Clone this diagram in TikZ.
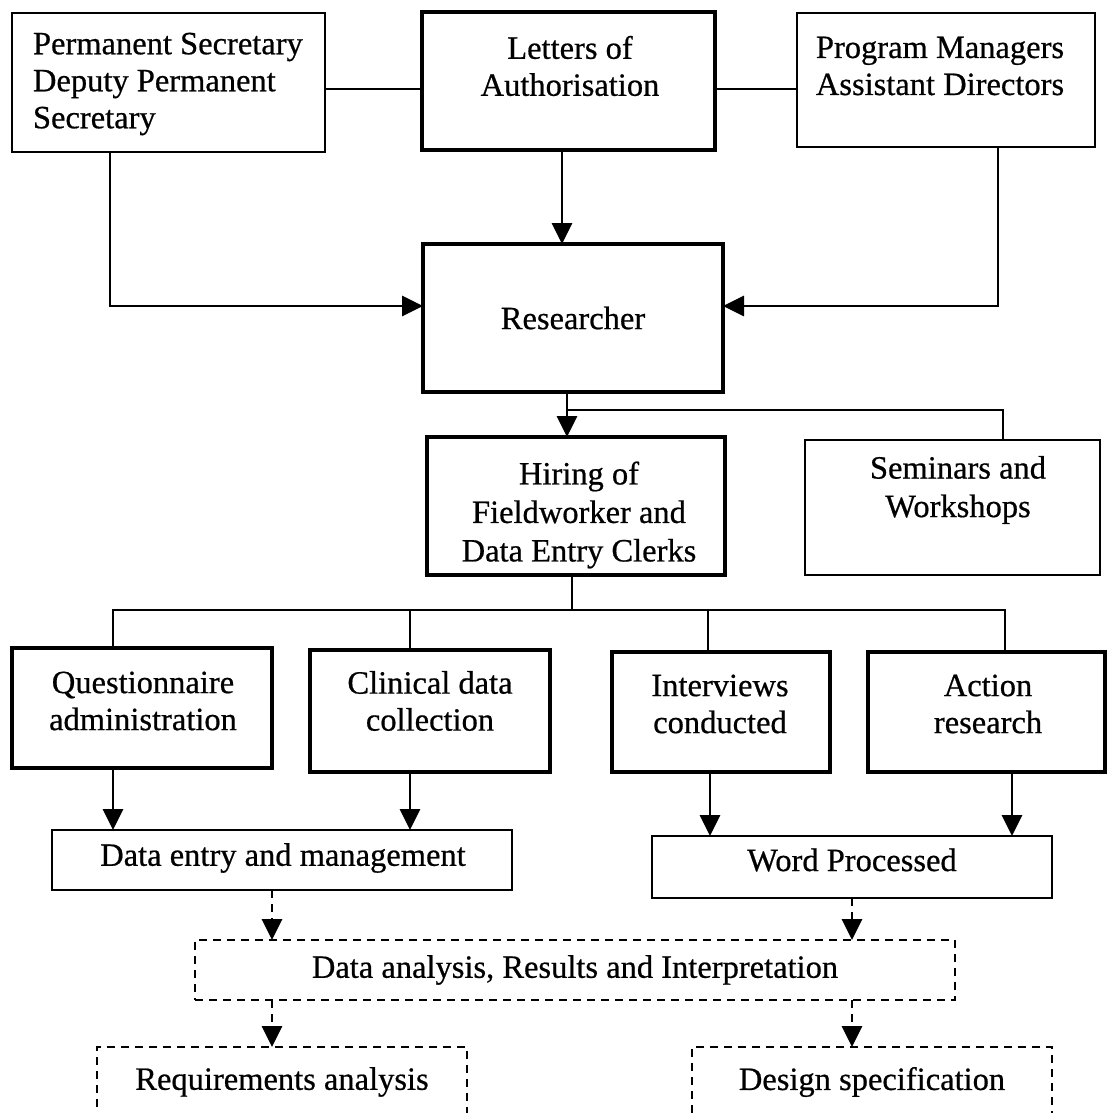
\documentclass[tikz,border=0pt]{standalone}
\usepackage{fontspec}
\setmainfont{Liberation Serif}[FakeBold=0.6]
\usetikzlibrary{arrows.meta}
\begin{document}
\begin{tikzpicture}[x=1pt,y=-1pt,
  every node/.style={inner sep=0pt,outer sep=0pt},
  thinbox/.style={draw,line width=2.6pt,anchor=north west},
  thickbox/.style={draw,line width=4.4pt,anchor=north west},
  dashbox/.style={draw,line width=2.8pt,dash pattern=on 8pt off 6pt,anchor=north west},
  txt/.style={font=\fontsize{32.5}{37}\selectfont,align=center},
  link/.style={line width=2.8pt},
  arr/.style={line width=2.8pt,-{Triangle[length=21pt,width=20pt]}},
  darr/.style={line width=2.8pt,dash pattern=on 8pt off 6pt,-{Triangle[length=21pt,width=20pt]}}]
\useasboundingbox (0,0) rectangle (1108,1113);
\clip (0,0) rectangle (1108,1113);
\fill[white] (0,0) rectangle (1108,1113);

% top row
\node[thinbox,minimum width=313pt,minimum height=139pt] (ps) at (12,13) {};
\node[thickbox,minimum width=293pt,minimum height=138pt] (let) at (422,12) {};
\node[thinbox,minimum width=298pt,minimum height=134pt] (pm) at (797,13) {};
\node[txt,align=left,anchor=west] (pst) at (33,84) {Permanent Secretary\\Deputy Permanent\\Secretary};
\node[txt] (lett) at (570,66) {Letters of\\Authorisation};
\node[txt] (pmt) at (940,66) {Program Managers\\Assistant Directors};

% researcher
\node[thickbox,minimum width=300pt,minimum height=148pt] (res) at (423,244) {};
\node[txt] (rest) at (573,318) {Researcher};

% second level
\node[thickbox,minimum width=298pt,minimum height=138pt] (hir) at (427,437) {};
\node[txt,font=\fontsize{32.5}{38.5}\selectfont] (hirt) at (579,515) {Hiring of\\Fieldworker and\\Data Entry Clerks};
\node[thinbox,minimum width=295pt,minimum height=135pt] (sem) at (805,440) {};
\node[txt,font=\fontsize{32.5}{38.5}\selectfont] (semt) at (958,490) {Seminars and\\Workshops};

% activities
\node[thickbox,minimum width=260pt,minimum height=120pt] (que) at (12,648) {};
\node[txt] (quet) at (143,701) {Questionnaire\\administration};
\node[thickbox,minimum width=240pt,minimum height=122pt] (cli) at (310,650) {};
\node[txt] (clit) at (430,701) {Clinical data\\collection};
\node[thickbox,minimum width=218pt,minimum height=120pt] (int) at (612,652) {};
\node[txt] (intt) at (720,704) {Interviews\\conducted};
\node[thickbox,minimum width=237pt,minimum height=120pt] (act) at (868,652) {};
\node[txt] (actt) at (988,704) {Action\\research};

% processing
\node[thinbox,minimum width=460pt,minimum height=60pt] (den) at (52,830) {};
\node[txt] (dent) at (283,858) {Data entry and management};
\node[thinbox,minimum width=400pt,minimum height=62pt] (wop) at (652,836) {};
\node[txt] (wopt) at (852,860) {Word Processed};

% analysis
\node[dashbox,minimum width=760pt,minimum height=60pt] (dan) at (195,940) {};
\node[txt] (dant) at (575,970) {Data analysis, Results and Interpretation};
\node[dashbox,minimum width=370pt,minimum height=90pt] (req) at (97,1047) {};
\node[txt] (reqt) at (282,1082) {Requirements analysis};
\node[dashbox,minimum width=360pt,minimum height=90pt] (des) at (692,1047) {};
\node[txt] (dest) at (872,1082) {Design specification};

% routing coordinates
\coordinate (ytop) at (0,89);
\coordinate (yres) at (0,306);
\coordinate (xps) at (110,0);
\coordinate (xpm) at (998,0);
\coordinate (xlet) at (562,0);
\coordinate (xres) at (567,0);
\coordinate (jres) at (567,410);
\coordinate (jsem) at (1003,410);
\coordinate (xhir) at (572,0);
\coordinate (jhir) at (572,610);
\coordinate (jq) at (113,610);
\coordinate (jc) at (410,610);
\coordinate (ji) at (708,610);
\coordinate (ja) at (1005,610);
\coordinate (xq) at (113,0);
\coordinate (xc) at (410,0);
\coordinate (xi) at (710,0);
\coordinate (xa) at (1012,0);
\coordinate (xl) at (272,0);
\coordinate (xr) at (852,0);

% connectors
\draw[link] (ps.east |- ytop) -- (let.west |- ytop);
\draw[link] (let.east |- ytop) -- (pm.west |- ytop);
\draw[arr] (xlet |- let.south) -- (xlet |- res.north);
\draw[arr] (xps |- ps.south) |- (res.west |- yres);
\draw[arr] (xpm |- pm.south) |- (res.east |- yres);
\draw[link] (xres |- res.south) -- (jres);
\draw[arr] (jres) -- (xres |- hir.north);
\draw[link] (jres) -- (jsem) -- (jsem |- sem.north);
\draw[link] (xhir |- hir.south) -- (jhir);
\draw[link] (jq |- que.north) -- (jq) -- (ja) -- (ja |- act.north);
\draw[link] (jc) -- (jc |- cli.north);
\draw[link] (ji) -- (ji |- int.north);
\draw[arr] (xq |- que.south) -- (xq |- den.north);
\draw[arr] (xc |- cli.south) -- (xc |- den.north);
\draw[arr] (xi |- int.south) -- (xi |- wop.north);
\draw[arr] (xa |- act.south) -- (xa |- wop.north);
\draw[darr] (xl |- den.south) -- (xl |- dan.north);
\draw[darr] (xr |- wop.south) -- (xr |- dan.north);
\draw[darr] (xl |- dan.south) -- (xl |- req.north);
\draw[darr] (xr |- dan.south) -- (xr |- des.north);
\end{tikzpicture}
\end{document}
